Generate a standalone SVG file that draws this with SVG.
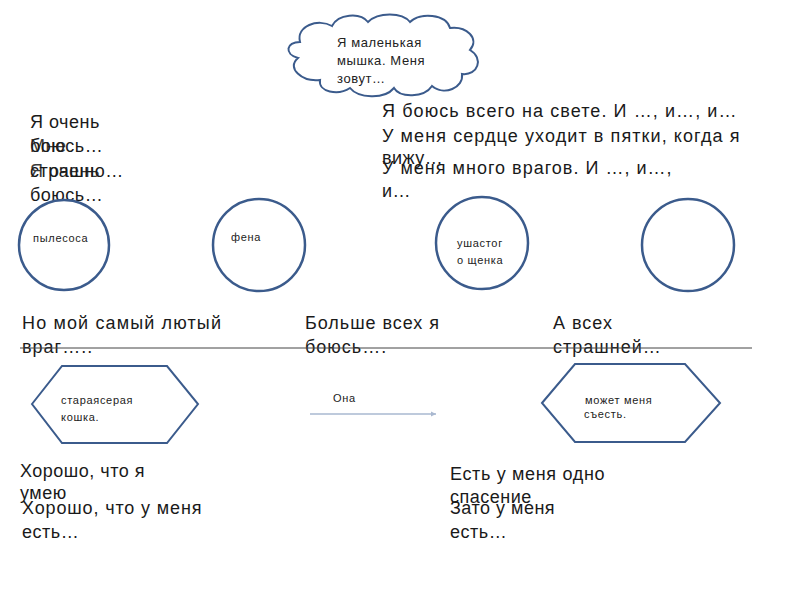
<svg xmlns="http://www.w3.org/2000/svg" width="800" height="600" viewBox="0 0 800 600">
<style>
.t{font-family:"Liberation Sans",Arial,sans-serif;font-size:18px;fill:#1a1a1a;letter-spacing:0.5px}
.n{font-family:"Liberation Sans",Arial,sans-serif;font-size:18px;fill:#1a1a1a;letter-spacing:1px}
.s{font-family:"Liberation Sans",Arial,sans-serif;font-size:11px;fill:#222;letter-spacing:0.7px}
.c{font-family:"Liberation Sans",Arial,sans-serif;font-size:13px;fill:#222;letter-spacing:0.6px}
.node{fill:#fff;stroke:#3b5b8c;stroke-width:2.5}
.hex{fill:#fff;stroke:#3b5b8c;stroke-width:2}
</style>
<defs>
<marker id="ah" markerWidth="6" markerHeight="6" refX="5" refY="3" orient="auto" markerUnits="userSpaceOnUse"><path d="M0,0.5 L5,3 L0,5.5 z" fill="#a9b8d0"/></marker>
</defs>
<rect width="800" height="600" fill="#fff"/>
<g id="cloud">
<path class="hex" d="M300,42 C296,26 318,18 332,26 C338,14 360,12 368,22 C378,12 402,12 410,22 C420,12 446,14 450,28 C466,26 480,38 470,50 C484,58 478,76 462,74 C464,88 444,96 432,86 C424,98 400,98 394,88 C384,100 358,98 350,88 C338,96 318,92 320,80 C302,82 286,68 298,58 C284,54 286,42 300,42 Z"/>
<text class="c" x="337" y="47">Я маленькая</text>
<text class="c" x="337" y="65">мышка. Меня</text>
<text class="c" x="337" y="83">зовут…</text>
</g>
<g id="left-texts">
<text class="t" x="30" y="128">Я очень</text>
<text class="t" x="30" y="152">боюсь…</text>
<text class="t" x="30" y="152" opacity="0.85">Мне</text>
<text class="t" x="30" y="177">страшно…</text>
<text class="t" x="30" y="177" opacity="0.85">Я очень</text>
<text class="t" x="30" y="201">боюсь…</text>
</g>
<g id="right-texts">
<text class="t" x="382" y="117" textLength="355">Я боюсь всего на свете.  И …, и…, и…</text>
<text class="t" x="382" y="142" textLength="358">У меня сердце уходит в пятки, когда я</text>
<text class="t" x="382" y="164">вижу…</text>
<text class="t" x="382" y="174" textLength="290">У меня много врагов.  И …, и…,</text>
<text class="t" x="382" y="197">и…</text>
</g>
<g id="node-1"><circle class="node" cx="64" cy="245" r="45"/><text class="s" x="33" y="242">пылесоса</text></g>
<g id="node-2"><circle class="node" cx="259" cy="245" r="46"/><text class="s" x="231" y="241">фена</text></g>
<g id="node-3"><circle class="node" cx="482" cy="243" r="46"/><text class="s" x="457" y="247">ушастог</text><text class="s" x="457" y="264">о щенка</text></g>
<g id="node-4"><circle class="node" cx="688" cy="245" r="46"/></g>
<g id="mid-texts">
<text class="n" x="22" y="329" textLength="200">Но мой самый лютый</text>
<text class="n" x="22" y="353">враг…..</text>
<text class="n" x="305" y="329" textLength="135">Больше всех я</text>
<text class="n" x="305" y="353">боюсь….</text>
<text class="n" x="553" y="329">А всех</text>
<text class="n" x="553" y="353">страшней…</text>
</g>
<g id="connectors">
<line x1="20" y1="348" x2="752" y2="348" stroke="#444" stroke-width="1"/>
<line x1="310" y1="414" x2="436" y2="414" stroke="#a9b8d0" stroke-width="1.5" marker-end="url(#ah)"/>
<text class="s" x="333" y="402">Она</text>
</g>
<g id="node-5"><polygon class="hex" points="32,404 62,366 167,366 198,404 167,443 62,443"/><text class="s" x="61" y="404">стараясерая</text><text class="s" x="61" y="421">кошка.</text></g>
<g id="node-6"><polygon class="hex" points="542,403 575,364 685,364 720,403 685,442 575,442"/><text class="s" x="585" y="404">может меня</text><text class="s" x="584" y="418">съесть.</text></g>
<g id="bottom-texts">
<text class="t" x="20" y="477">Хорошо, что я</text>
<text class="t" x="20" y="499">умею</text>
<text class="t" x="22" y="514" textLength="180">Хорошо, что у меня</text>
<text class="t" x="22" y="538">есть…</text>
<text class="t" x="450" y="480" textLength="155">Есть у меня одно</text>
<text class="t" x="450" y="503">спасение</text>
<text class="t" x="450" y="514">Зато у меня</text>
<text class="t" x="450" y="538">есть…</text>
</g>
</svg>
